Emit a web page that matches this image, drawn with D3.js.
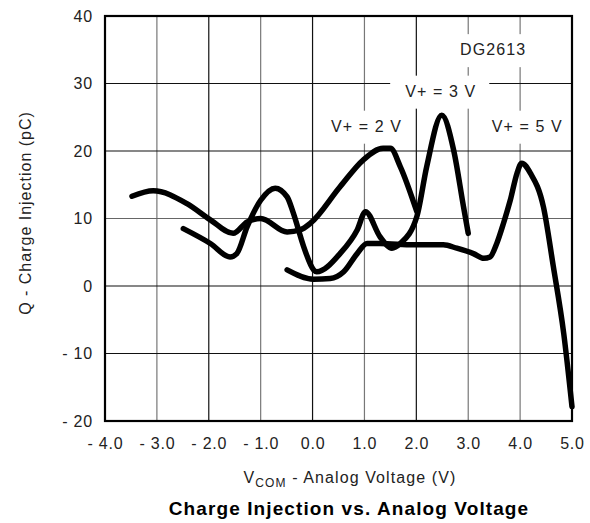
<!DOCTYPE html>
<html>
<head>
<meta charset="utf-8">
<script src="https://cdn.jsdelivr.net/npm/d3@7"></script>
<style>
  body { margin: 0; background: #fff; }
  text { font-family: "Liberation Sans", Arial, Helvetica, sans-serif; }
</style>
</head>
<body>
<svg id="chart" width="590" height="523"></svg>
<script>
// ejes
var xTicks = [-4, -3, -2, -1, 0, 1, 2, 3, 4, 5];
var xTickLabels = ["- 4.0", "- 3.0", "- 2.0", "- 1.0", "0.0", "1.0", "2.0", "3.0", "4.0", "5.0"];
var yTicks = [-20, -10, 0, 10, 20, 30, 40];
var yTickLabels = ["- 20", "- 10", "0", "10", "20", "30", "40"];

// curvas (V, pC)
var v2x = [-3.48, -3.07, -2.42, -1.97, -1.53, -1.26, -1.0, -0.49, -0.24, -0.04, 0.53, 0.98, 1.36, 1.5, 1.69, 2.01];
var v2y = [13.3, 14.1, 12.2, 9.8, 7.8, 9.5, 10.0, 8.0, 8.3, 9.3, 14.7, 18.7, 20.4, 20.4, 17.7, 11.0];

var v3x = [-2.49, -1.97, -1.59, -1.46, -1.26, -1.0, -0.72, -0.49, -0.37, -0.17, 0.02, 0.08, 0.53, 0.86, 1.02, 1.3, 1.53, 1.69, 2.01, 2.2, 2.49, 2.72, 2.91, 3.0];
var v3y = [8.5, 6.3, 4.3, 4.8, 8.8, 12.7, 14.5, 13.2, 10.8, 5.8, 2.4, 2.1, 4.8, 8.3, 11.0, 7.3, 5.6, 6.3, 10.3, 17.7, 25.3, 20.1, 11.7, 7.8];

var v5x = [-0.49, 0.02, 0.34, 0.6, 0.86, 1.05, 1.3, 1.95, 2.52, 2.78, 3.1, 3.3, 3.42, 3.55, 3.68, 3.81, 3.94, 4.03, 4.2, 4.45, 4.64, 4.84, 5.0];
var v5y = [2.4, 1.0, 1.1, 2.1, 4.8, 6.3, 6.3, 6.1, 6.1, 5.6, 4.8, 4.1, 4.3, 6.3, 9.3, 12.7, 16.7, 18.2, 16.7, 11.7, 2.9, -7.0, -17.9];

var etiquetas = ["DG2613", "V+ = 3 V", "V+ = 2 V", "V+ = 5 V"];
var etiquetaX = [3.48, 2.47, 1.04, 4.14];
var etiquetaY = [34.2, 28.05, 22.86, 22.86];

var svg = d3.select("#chart");
var margen = { left: 105, right: 18, top: 16, bottom: 102 };
var ancho = 590 - margen.left - margen.right;
var alto = 523 - margen.top - margen.bottom;

var x = d3.scaleLinear().domain([-4, 5]).range([0, ancho]);
var y = d3.scaleLinear().domain([-20, 40]).range([alto, 0]);

var g = svg.append("g").attr("transform", "translate(" + margen.left + "," + margen.top + ")");

// grilla
var oscuras = [-2, 0, 2];
g.selectAll(".vgrid").data(xTicks.slice(1, -1)).enter().append("line")
    .attr("x1", d => x(d)).attr("x2", d => x(d))
    .attr("y1", 0).attr("y2", alto)
    .attr("stroke", d => oscuras.indexOf(d) >= 0 ? "#111" : "#777")
    .attr("stroke-width", 1.2);
g.selectAll(".hgrid").data(yTicks.slice(1, -1)).enter().append("line")
    .attr("x1", 0).attr("x2", ancho)
    .attr("y1", d => y(d)).attr("y2", d => y(d))
    .attr("stroke", d => d === 10 ? "#666" : "#111")
    .attr("stroke-width", 1.2);

// etiquetas con fondo blanco
etiquetas.forEach(function (t, i) {
    var txt = g.append("text")
        .attr("x", x(etiquetaX[i]))
        .attr("y", y(etiquetaY[i]))
        .attr("text-anchor", "middle")
        .attr("font-size", 16)
        .attr("letter-spacing", 1.1)
        .attr("fill", "#222")
        .text(t);
    var bb = txt.node().getBBox();
    g.insert("rect", "text")
        .attr("x", bb.x - 15).attr("y", bb.y - 7)
        .attr("width", bb.width + 28).attr("height", bb.height + 16)
        .attr("fill", "#fff");
});

// curvas
var linea = d3.line()
    .x(d => x(d[0]))
    .y(d => y(d[1]))
    .curve(d3.curveMonotoneX);
[[v2x, v2y], [v3x, v3y], [v5x, v5y]].forEach(function (s) {
    g.append("path")
        .datum(d3.zip(s[0], s[1]))
        .attr("d", linea)
        .attr("fill", "none")
        .attr("stroke", "#000")
        .attr("stroke-width", 5.5)
        .attr("stroke-linecap", "round")
        .attr("stroke-linejoin", "round");
});

// marco
g.append("rect")
    .attr("width", ancho).attr("height", alto)
    .attr("fill", "none").attr("stroke", "#000").attr("stroke-width", 2.2);

// ejes
var ejeX = d3.axisBottom(x).tickValues(xTicks).tickSize(0).tickPadding(17)
    .tickFormat((d, i) => xTickLabels[i]);
g.append("g").attr("transform", "translate(0," + alto + ")").call(ejeX)
    .call(s => s.select(".domain").remove())
    .selectAll("text").attr("font-size", 16).attr("letter-spacing", 0.8).attr("fill", "#222")
    .style("font-family", "'Liberation Sans', Arial, sans-serif");

var ejeY = d3.axisLeft(y).tickValues(yTicks).tickSize(0).tickPadding(12)
    .tickFormat((d, i) => yTickLabels[i]);
g.append("g").call(ejeY)
    .call(s => s.select(".domain").remove())
    .selectAll("text").attr("font-size", 16).attr("letter-spacing", 0.8).attr("fill", "#222")
    .style("font-family", "'Liberation Sans', Arial, sans-serif");

// titulos
var tx = svg.append("text")
    .attr("x", 350).attr("y", 483)
    .attr("text-anchor", "middle").attr("font-size", 16).attr("letter-spacing", 1.1).attr("fill", "#222");
tx.append("tspan").text("V");
tx.append("tspan").attr("font-size", 12).attr("dy", 4).text("COM");
tx.append("tspan").attr("dy", -4).text(" - Analog Voltage (V)");

svg.append("text")
    .attr("transform", "translate(31,213) rotate(-90)")
    .attr("text-anchor", "middle").attr("font-size", 16).attr("letter-spacing", 1).attr("fill", "#222")
    .text("Q - Charge Injection (pC)");

svg.append("text")
    .attr("x", 349).attr("y", 515)
    .attr("text-anchor", "middle").attr("font-size", 19).attr("letter-spacing", 1.1).attr("font-weight", "bold")
    .attr("fill", "#000")
    .text("Charge Injection vs. Analog Voltage");
</script>
</body>
</html>
